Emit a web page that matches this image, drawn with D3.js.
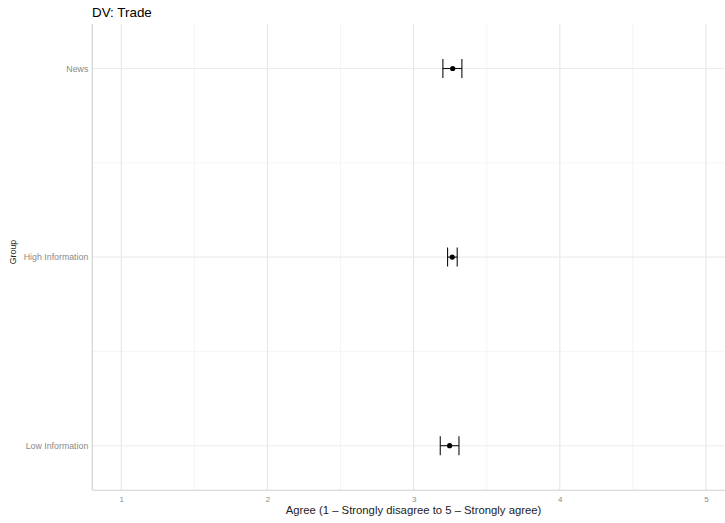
<!DOCTYPE html>
<html>
<head>
<meta charset="utf-8">
<script src="https://cdn.jsdelivr.net/npm/d3@7"></script>
<style>
  html, body { margin: 0; padding: 0; background: #fff; }
  svg { display: block; font-family: "Liberation Sans", Arial, sans-serif; }
</style>
</head>
<body>
<svg id="chart" width="725" height="523"></svg>
<script>
// Estimated means and 95% confidence bounds by information group
const groups = ["Low Information", "High Information", "News"];
const means  = [3.246, 3.264, 3.267];
const lower  = [3.182, 3.232, 3.200];
const upper  = [3.310, 3.298, 3.330];
const xTicks = [1, 2, 3, 4, 5];
const xMinor = [1.5, 2.5, 3.5, 4.5];

const svg = d3.select("#chart");

const panel = { left: 92.3, right: 725, top: 24, bottom: 490.3 };

// x: agreement scale
const x = d3.scaleLinear().domain([1, 5]).range([121.3, 706]);
// y: groups, Low at bottom
const y = d3.scalePoint().domain(groups).range([445.7, 68.5]);
const step = y.step();

const grid = svg.append("g");

// minor vertical gridlines
grid.selectAll("line.xminor").data(xMinor).join("line")
  .attr("x1", d => x(d)).attr("x2", d => x(d))
  .attr("y1", panel.top).attr("y2", panel.bottom)
  .attr("stroke", "#ececec").attr("stroke-width", 0.6);

// minor horizontal gridlines between groups
grid.selectAll("line.yminor").data(groups.slice(0, -1)).join("line")
  .attr("x1", panel.left).attr("x2", panel.right)
  .attr("y1", d => y(d) - step / 2).attr("y2", d => y(d) - step / 2)
  .attr("stroke", "#ececec").attr("stroke-width", 0.6);

// major vertical gridlines
grid.selectAll("line.xmajor").data(xTicks).join("line")
  .attr("x1", d => x(d)).attr("x2", d => x(d))
  .attr("y1", panel.top).attr("y2", panel.bottom)
  .attr("stroke", "#e6e6e6").attr("stroke-width", 1.1);

// major horizontal gridlines
grid.selectAll("line.ymajor").data(groups).join("line")
  .attr("x1", panel.left).attr("x2", panel.right)
  .attr("y1", d => y(d)).attr("y2", d => y(d))
  .attr("stroke", "#ececec").attr("stroke-width", 1.1);

// axis lines
svg.append("line")
  .attr("x1", panel.left).attr("x2", panel.left)
  .attr("y1", panel.top).attr("y2", panel.bottom)
  .attr("stroke", "#cfcfcf").attr("stroke-width", 1.1);
svg.append("line")
  .attr("x1", panel.left).attr("x2", panel.right)
  .attr("y1", panel.bottom).attr("y2", panel.bottom)
  .attr("stroke", "#cfcfcf").attr("stroke-width", 1.1);

// tick labels via d3 axes (tick marks hidden)
const xAxis = svg.append("g")
  .attr("transform", `translate(0,${panel.bottom})`)
  .call(d3.axisBottom(x).tickValues(xTicks).tickFormat(d3.format("d")).tickSize(0).tickPadding(6));
xAxis.select(".domain").remove();
xAxis.selectAll("text").attr("fill", "#8a8a8a").attr("font-size", 8)
  .style("font-family", "Liberation Sans, Arial, sans-serif");

const yAxis = svg.append("g")
  .attr("transform", `translate(${panel.left},0)`)
  .call(d3.axisLeft(y).tickSize(0).tickPadding(4));
yAxis.select(".domain").remove();
yAxis.selectAll("text").attr("fill", "#8a8a8a").attr("font-size", 8.8)
  .style("font-family", "Liberation Sans, Arial, sans-serif");

// error bars
const capH = 9.5;
const rows = groups.map((g, i) => ({ g, m: means[i], lo: lower[i], hi: upper[i] }));
const bars = svg.append("g");
bars.selectAll("line.ci").data(rows).join("line")
  .attr("x1", d => x(d.lo)).attr("x2", d => x(d.hi))
  .attr("y1", d => y(d.g)).attr("y2", d => y(d.g))
  .attr("stroke", "#111").attr("stroke-width", 1.1);
bars.selectAll("line.capl").data(rows).join("line")
  .attr("x1", d => x(d.lo)).attr("x2", d => x(d.lo))
  .attr("y1", d => y(d.g) - capH).attr("y2", d => y(d.g) + capH)
  .attr("stroke", "#111").attr("stroke-width", 1.1);
bars.selectAll("line.caph").data(rows).join("line")
  .attr("x1", d => x(d.hi)).attr("x2", d => x(d.hi))
  .attr("y1", d => y(d.g) - capH).attr("y2", d => y(d.g) + capH)
  .attr("stroke", "#111").attr("stroke-width", 1.1);
bars.selectAll("circle").data(rows).join("circle")
  .attr("cx", d => x(d.m)).attr("cy", d => y(d.g)).attr("r", 2.6)
  .attr("fill", "#000");

// titles
svg.append("text").attr("x", 92).attr("y", 17)
  .attr("font-size", 13.4).attr("fill", "#000").text("DV: Trade");

svg.append("text").attr("x", 413.5).attr("y", 514)
  .attr("text-anchor", "middle").attr("font-size", 11.3).attr("fill", "#222")
  .text("Agree (1 \u2013 Strongly disagree to 5 \u2013 Strongly agree)");

svg.append("text")
  .attr("transform", `translate(16,252) rotate(-90)`)
  .attr("text-anchor", "middle").attr("font-size", 8.8).attr("fill", "#222")
  .text("Group");
</script>
</body>
</html>
